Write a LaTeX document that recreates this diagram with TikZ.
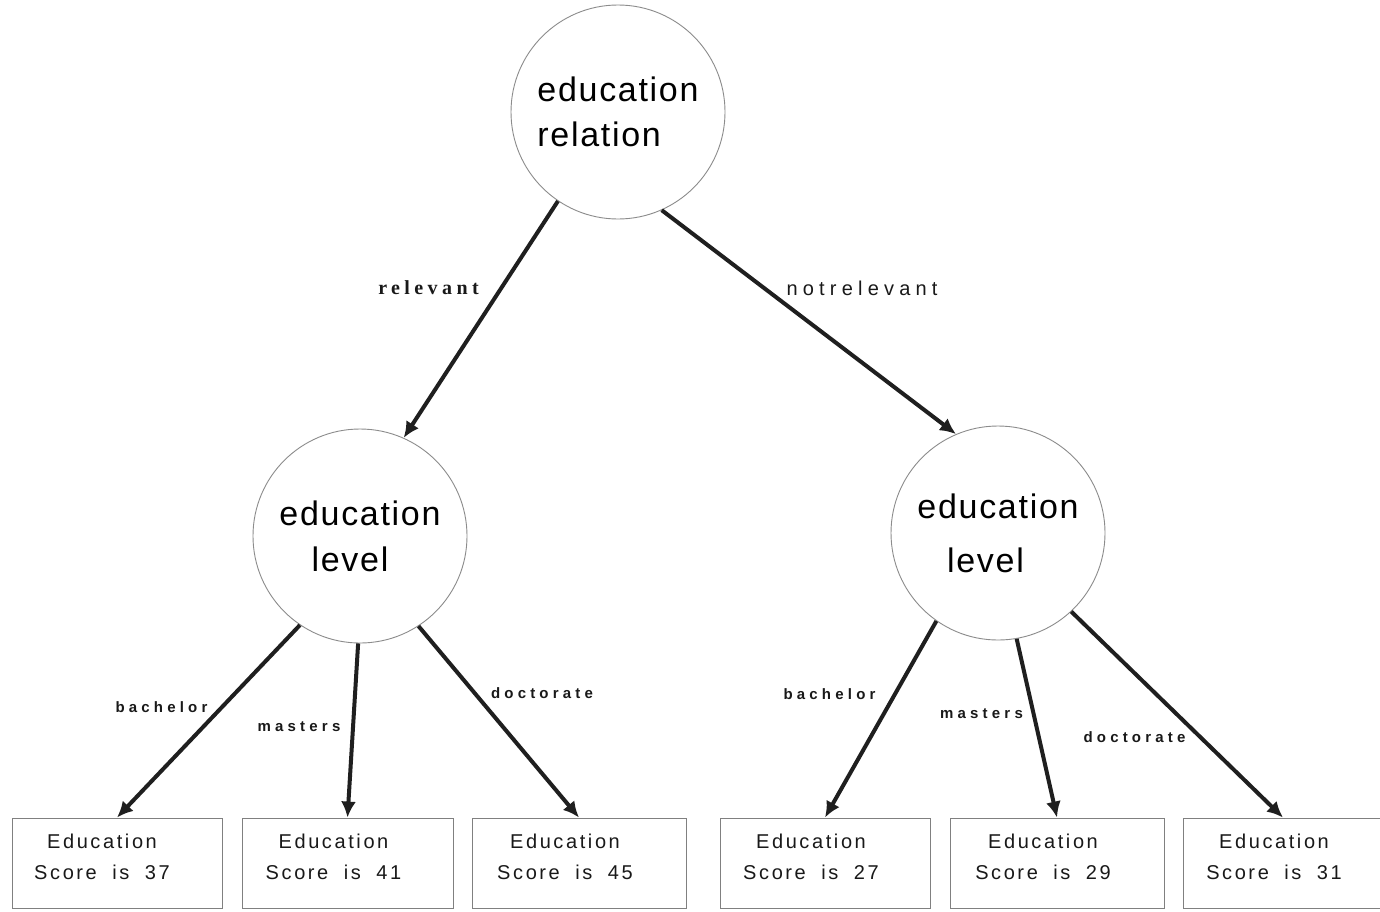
\documentclass[tikz,border=0pt]{standalone}
\usepackage{fontspec}
\setmainfont{Liberation Sans}
\newfontfamily\circfont[LetterSpace=5]{Liberation Sans}
\newfontfamily\boxfont[LetterSpace=13,WordSpace=1.9]{Liberation Sans}
\newfontfamily\branchfont[LetterSpace=28]{Liberation Sans}
\newfontfamily\wideplain[LetterSpace=26]{Liberation Sans}
\newfontfamily\serifwide[LetterSpace=22]{Liberation Serif}
\usetikzlibrary{arrows.meta}

\begin{document}
\begin{tikzpicture}[x=1pt,y=-1pt,
  decision/.style={circle,draw=black!45,line width=0.9pt,minimum size=214pt,inner sep=0pt},
  leafbox/.style={rectangle,draw=black!50,line width=0.9pt,minimum height=90pt,inner sep=0pt},
  leaftext/.style={align=center,inner sep=0pt,text=black!90,font=\boxfont\fontsize{20}{31}\selectfont},
  branch/.style={draw=black!88,line width=4pt,-{Latex[length=16pt,width=15pt]}},
  smalllabel/.style={inner sep=0pt,text=black!90,font=\branchfont\bfseries\fontsize{15}{18}\selectfont},
  biglabel/.style={inner sep=0pt,text=black!90},
]
\path[use as bounding box] (0,0) rectangle (1380,911);
\clip (0,0) rectangle (1380,911);
\fill[white] (0,0) rectangle (1380,911);

% decision nodes
\node[decision,align=left,font=\circfont\fontsize{34}{45}\selectfont] (top) at (618,112)
  {education\\relation};
\node[decision,align=center,font=\circfont\fontsize{34}{46}\selectfont] (lvlL) at (360,536)
  {education\\level\hspace*{20pt}};
\node[decision,align=center,font=\circfont\fontsize{34}{54}\selectfont] (lvlR) at (998,533)
  {education\\level\hspace*{25pt}};

% leaf boxes
\node[leafbox,minimum width=210pt] (s37) at (117,863) {};
\node[leafbox,minimum width=211pt] (s41) at (347.5,863) {};
\node[leafbox,minimum width=214pt] (s45) at (579,863) {};
\node[leafbox,minimum width=210pt] (s27) at (825,863) {};
\node[leafbox,minimum width=214pt] (s29) at (1057,863) {};
\node[leafbox,minimum width=210pt] (s31) at (1288,863) {};

\node[leaftext,xshift=-15pt,yshift=6pt] (t37) at (s37) {Education\\Score is 37};
\node[leaftext,xshift=-14pt,yshift=6pt] (t41) at (s41) {Education\\Score is 41};
\node[leaftext,xshift=-14pt,yshift=6pt] (t45) at (s45) {Education\\Score is 45};
\node[leaftext,xshift=-14pt,yshift=6pt] (t27) at (s27) {Education\\Score is 27};
\node[leaftext,xshift=-14pt,yshift=6pt] (t29) at (s29) {Education\\Score is 29};
\node[leaftext,xshift=-14pt,yshift=6pt] (t31) at (s31) {Education\\Score is 31};

% branches
\draw[branch] (top.236) -- (lvlL.66);
\draw[branch] (top.294) -- (lvlR.113);
\draw[branch] (lvlL.236) -- (s37.north);
\draw[branch] (lvlL.269) -- (s41.north);
\draw[branch] (lvlL.303) -- (s45.north);
\draw[branch] (lvlR.235) -- (s27.north);
\draw[branch] (lvlR.280) -- (s29.north);
\draw[branch] (lvlR.313) -- ([xshift=-5pt]s31.north);

% branch labels
\node[biglabel,font=\serifwide\bfseries\fontsize{20}{24}\selectfont] (lrel) at (428.5,288) {relevant};
\node[biglabel,font=\wideplain\fontsize{20}{24}\selectfont] (lnot) at (862,288) {notrelevant};
\node[smalllabel] (lbL) at (161.5,707) {bachelor};
\node[smalllabel] (lmL) at (299,727) {masters};
\node[smalllabel] (ldL) at (542,693) {doctorate};
\node[smalllabel] (lbR) at (829.5,694) {bachelor};
\node[smalllabel] (lmR) at (981.5,714) {masters};
\node[smalllabel] (ldR) at (1134.5,737) {doctorate};
\end{tikzpicture}
\end{document}
